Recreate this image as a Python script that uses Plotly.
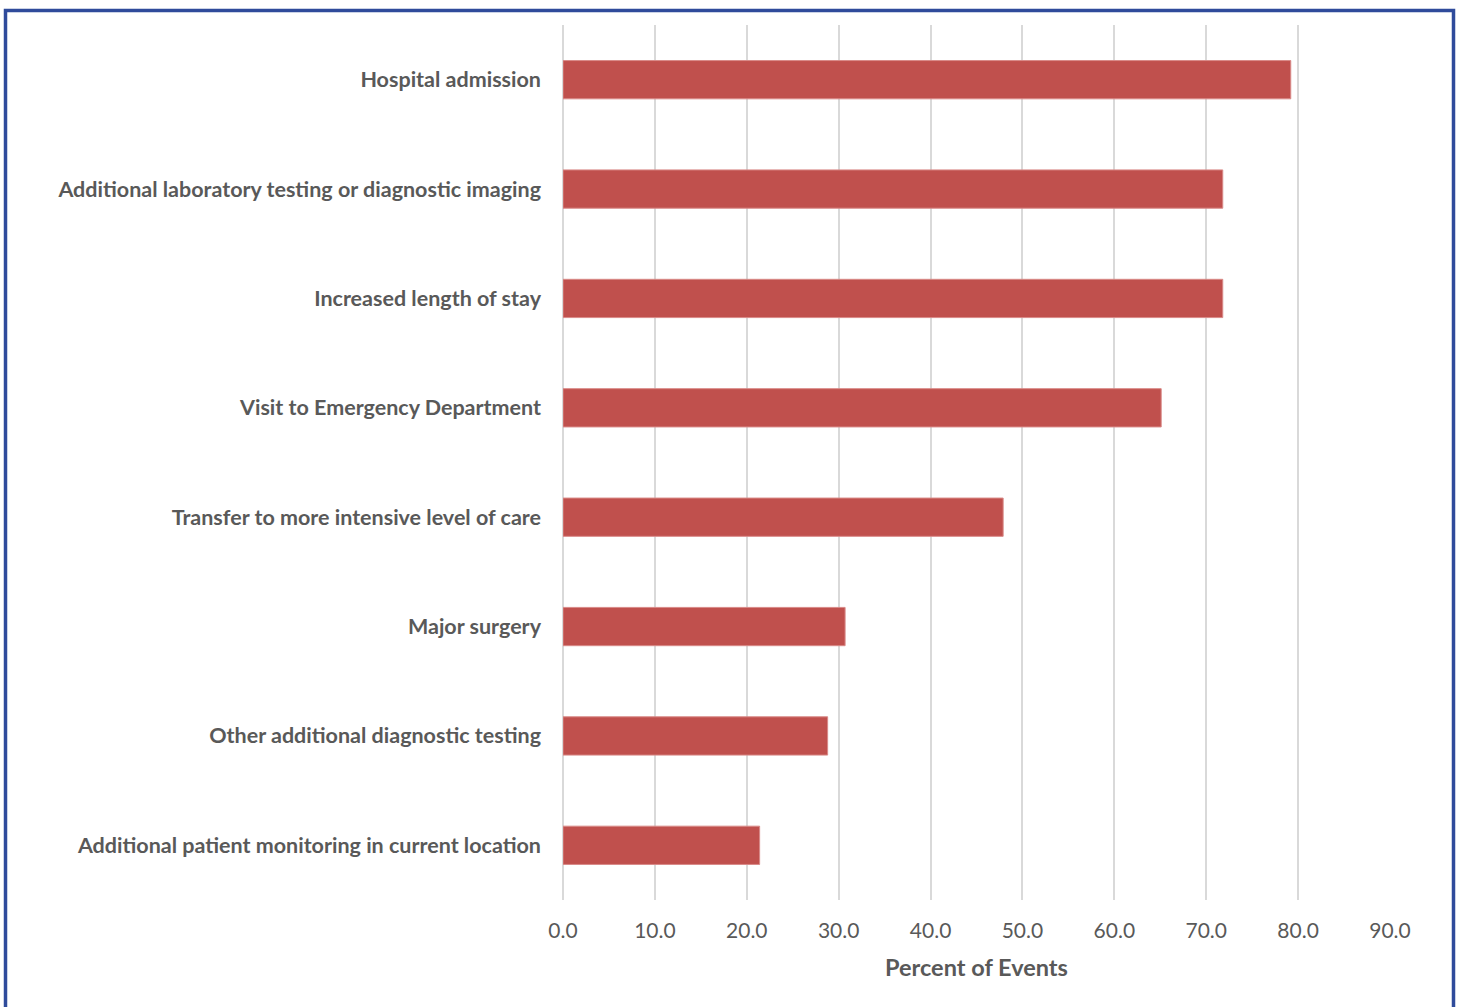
import plotly.graph_objects as go

categories = [
    "Hospital admission",
    "Additional laboratory testing or diagnostic imaging",
    "Increased length of stay",
    "Visit to Emergency Department",
    "Transfer to more intensive level of care",
    "Major surgery",
    "Other additional diagnostic testing",
    "Additional patient monitoring in current location",
]
values = [79.2, 71.8, 71.8, 65.1, 47.9, 30.7, 28.8, 21.4]
tick_vals = [0, 10, 20, 30, 40, 50, 60, 70, 80, 90]
tick_text = ["0.0", "10.0", "20.0", "30.0", "40.0", "50.0", "60.0", "70.0", "80.0", "90.0"]

W, H = 1458, 1007
L, R, T, B = 563, 68, 25, 107
pw = W - L - R
ph = H - T - B

fig = go.Figure(go.Bar(
    x=values,
    y=categories,
    orientation="h",
    marker=dict(color="#C0504D", line=dict(color="#D98A88", width=1)),
    width=0.35,
))

fig.update_layout(
    width=W, height=H,
    margin=dict(l=L, r=R, t=T, b=B),
    paper_bgcolor="white",
    plot_bgcolor="white",
    showlegend=False,
    font=dict(family="Lato, Open Sans, sans-serif", color="#595959"),
    xaxis=dict(
        range=[0, 90],
        tickvals=tick_vals,
        ticktext=tick_text,
        showgrid=True,
        gridcolor="#D9D9D9",
        gridwidth=2,
        zeroline=True,
        zerolinecolor="#D9D9D9",
        zerolinewidth=2,
        showline=False,
        ticks="",
        tickfont=dict(size=21, color="#595959"),
        ticklabelstandoff=16,
        title=dict(text="<b>Percent of Events</b>", font=dict(size=23.5, color="#595959"), standoff=18),
    ),
    yaxis=dict(
        categoryorder="array",
        categoryarray=categories[::-1],
        showgrid=False,
        zeroline=False,
        showline=False,
        ticks="",
        tickfont=dict(size=21.5, color="#595959", weight="bold"),
        ticklabelstandoff=21,
    ),
)

def px_x(p):
    return (p - L) / pw

def px_y(p):
    return 1 - (p - T) / ph

fig.add_shape(
    type="rect", xref="paper", yref="paper",
    x0=px_x(5.5), x1=px_x(1453.5), y0=px_y(1015), y1=px_y(10.5),
    line=dict(color="#2F4B9B", width=3.5), fillcolor="rgba(0,0,0,0)",
    layer="above",
)

fig.write_html(
    "out.html",
    config={"displayModeBar": False},
    post_script="document.body.style.margin='0';document.body.style.overflow='hidden';",
)
